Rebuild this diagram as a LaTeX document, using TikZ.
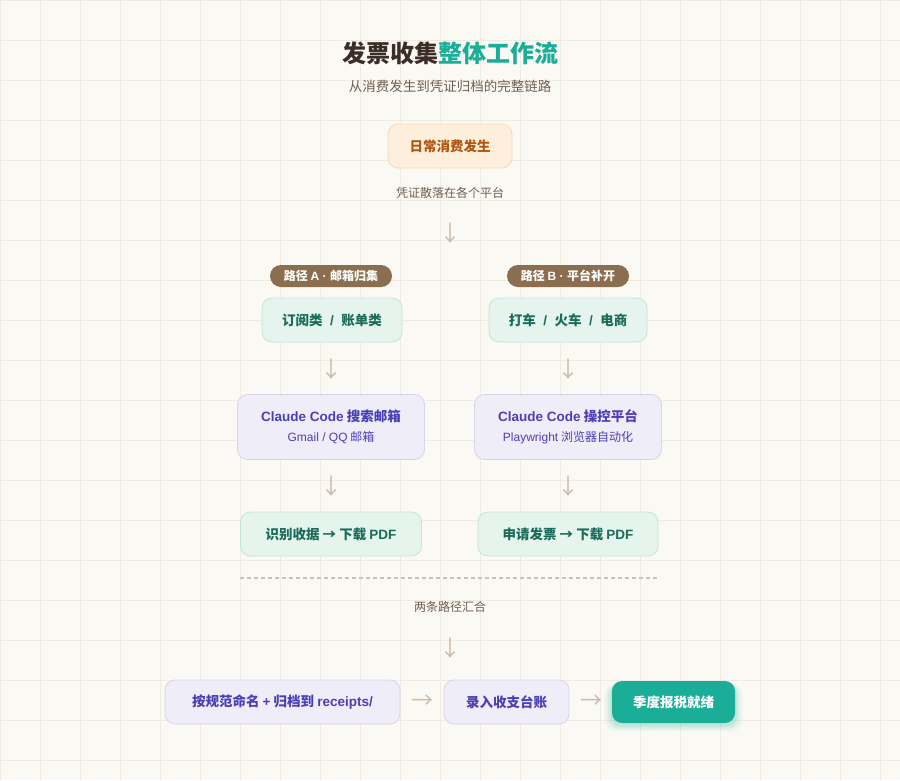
\documentclass[tikz,border=0pt]{standalone}
\usepackage{fontspec}
\setmainfont{Noto Sans CJK SC}
\newfontfamily\latinfont{Liberation Sans}
\newcommand{\en}[1]{{\latinfont #1}}
\newcommand{\sep}{\en{\ \ /\ \ }}
\usepackage{tikz}
\usetikzlibrary{positioning,shadows}
\definecolor{paperBg}{HTML}{FBF9F3}
\definecolor{gridLine}{HTML}{F0EBE1}
\definecolor{inkBrown}{HTML}{3B2E27}
\definecolor{tealMain}{HTML}{1AAE98}
\definecolor{noteBrown}{HTML}{6E5E50}
\definecolor{orangeFill}{HTML}{FDEFDB}
\definecolor{orangeEdge}{HTML}{F5DCB5}
\definecolor{orangeInk}{HTML}{B2560F}
\definecolor{pillBrown}{HTML}{8A6E4F}
\definecolor{mintFill}{HTML}{E6F4EE}
\definecolor{mintEdge}{HTML}{C2E5D8}
\definecolor{mintInk}{HTML}{1B6B5B}
\definecolor{lilacFill}{HTML}{EEEDF8}
\definecolor{lilacEdge}{HTML}{D7D4F0}
\definecolor{lilacInk}{HTML}{4B3FB8}
\definecolor{arrowGrey}{HTML}{C9BCAC}
\definecolor{dashGrey}{HTML}{CFC4B4}

\begin{document}
\begin{tikzpicture}[x=1pt,y=-1pt,
          box/.style={rounded corners=10pt, line width=0.8pt, inner sep=0pt,
            align=center, minimum height=44pt},
          startbox/.style={box, draw=orangeEdge, fill=orangeFill, text=orangeInk,
            font=\fontsize{13.5}{16}\selectfont\bfseries},
          pathpill/.style={rounded corners=11pt, fill=pillBrown, text=white,
            minimum height=22pt, minimum width=122pt, inner sep=0pt,
            font=\fontsize{12}{14}\selectfont\bfseries},
          mintbox/.style={box, draw=mintEdge, fill=mintFill, text=mintInk,
            font=\fontsize{13.5}{16}\selectfont\bfseries},
          lilacbox/.style={box, draw=lilacEdge, fill=lilacFill, text=lilacInk,
            font=\fontsize{13.5}{20}\selectfont\bfseries},
          donebox/.style={box, fill=tealMain, text=white, minimum height=42pt,
            font=\fontsize{13.5}{16}\selectfont\bfseries,
            drop shadow={shadow xshift=0pt, shadow yshift=-5pt, shadow scale=1.12, fill=tealMain, opacity=0.06},
            drop shadow={shadow xshift=0pt, shadow yshift=-4pt, shadow scale=1.07, fill=tealMain, opacity=0.09},
            drop shadow={shadow xshift=0pt, shadow yshift=-3pt, shadow scale=1.03, fill=tealMain, opacity=0.12}},
          note/.style={text=noteBrown, font=\fontsize{12}{14}\selectfont},
          flow/.style={text=arrowGrey, inner sep=0pt, font=\fontsize{22}{22}\selectfont}
        ]
          \useasboundingbox (0,0) rectangle (900,780);
          \fill[paperBg] (0,0) rectangle (900,780);
          \draw[gridLine, line width=0.8pt, step=40pt] (0,0) grid (900,780);

          % header
          \node[font=\fontsize{24}{26}\selectfont\bfseries] (title) at (450,53)
            {\textcolor{inkBrown}{发票收集}\textcolor{tealMain}{整体工作流}};
          \node[text=noteBrown, font=\fontsize{13.5}{16}\selectfont] (subtitle) at (450,86)
            {从消费发生到凭证归档的完整链路};

          \node[startbox, minimum width=124pt] (daily) at (450,146) {日常消费发生};
          \node[note] (scatter) at (450,193) {凭证散落在各个平台};
          \node[flow] (down0) at (450,233) {↓};

          % two paths
          \node[pathpill] (pillA) at (331,276) {路径 \en{A · }邮箱归集};
          \node[pathpill] (pillB) at (568,276) {路径 \en{B · }平台补开};
          \node[mintbox, minimum width=140pt] (subA) at (332,320) {订阅类\sep 账单类};
          \node[mintbox, minimum width=158pt] (subB) at (568,320) {打车\sep 火车\sep 电商};
          \node[flow] (downA1) at (331,369) {↓};
          \node[flow] (downB1) at (568,369) {↓};
          \node[lilacbox, minimum width=187pt, minimum height=65pt] (claudeA) at (331,427)
            {\en{Claude Code} 搜索邮箱\\{\fontsize{12}{14}\selectfont\mdseries \en{Gmail / QQ} 邮箱}};
          \node[lilacbox, minimum width=187pt, minimum height=65pt] (claudeB) at (568,427)
            {\en{Claude Code} 操控平台\\{\fontsize{12}{14}\selectfont\mdseries \en{Playwright} 浏览器自动化}};
          \node[flow] (downA2) at (331,486) {↓};
          \node[flow] (downB2) at (568,486) {↓};
          \node[mintbox, minimum width=181pt] (fetchA) at (331,534) {识别收据 → 下载 \en{PDF}};
          \node[mintbox, minimum width=180pt] (fetchB) at (568,534) {申请发票 → 下载 \en{PDF}};

          % merge
          \coordinate (mergeL) at (240,578);
          \coordinate (mergeR) at (660,578);
          \draw[dashGrey, line width=1.5pt, dash pattern=on 4pt off 3pt] (mergeL) -- (mergeR);
          \node[note] (merge) at (450,607) {两条路径汇合};
          \node[flow] (down3) at (450,648) {↓};

          % final row
          \node[lilacbox, minimum width=235pt] (archive) at (282.5,702) {按规范命名 \en{+} 归档到 \en{receipts/}};
          \node[flow] (right1) at (422,702) {→};
          \node[lilacbox, minimum width=125pt] (ledger) at (506.5,702) {录入收支台账};
          \node[flow] (right2) at (591,702) {→};
          \node[donebox, minimum width=123pt] (ready) at (673.5,702) {季度报税就绪};
        \end{tikzpicture}
\end{document}
